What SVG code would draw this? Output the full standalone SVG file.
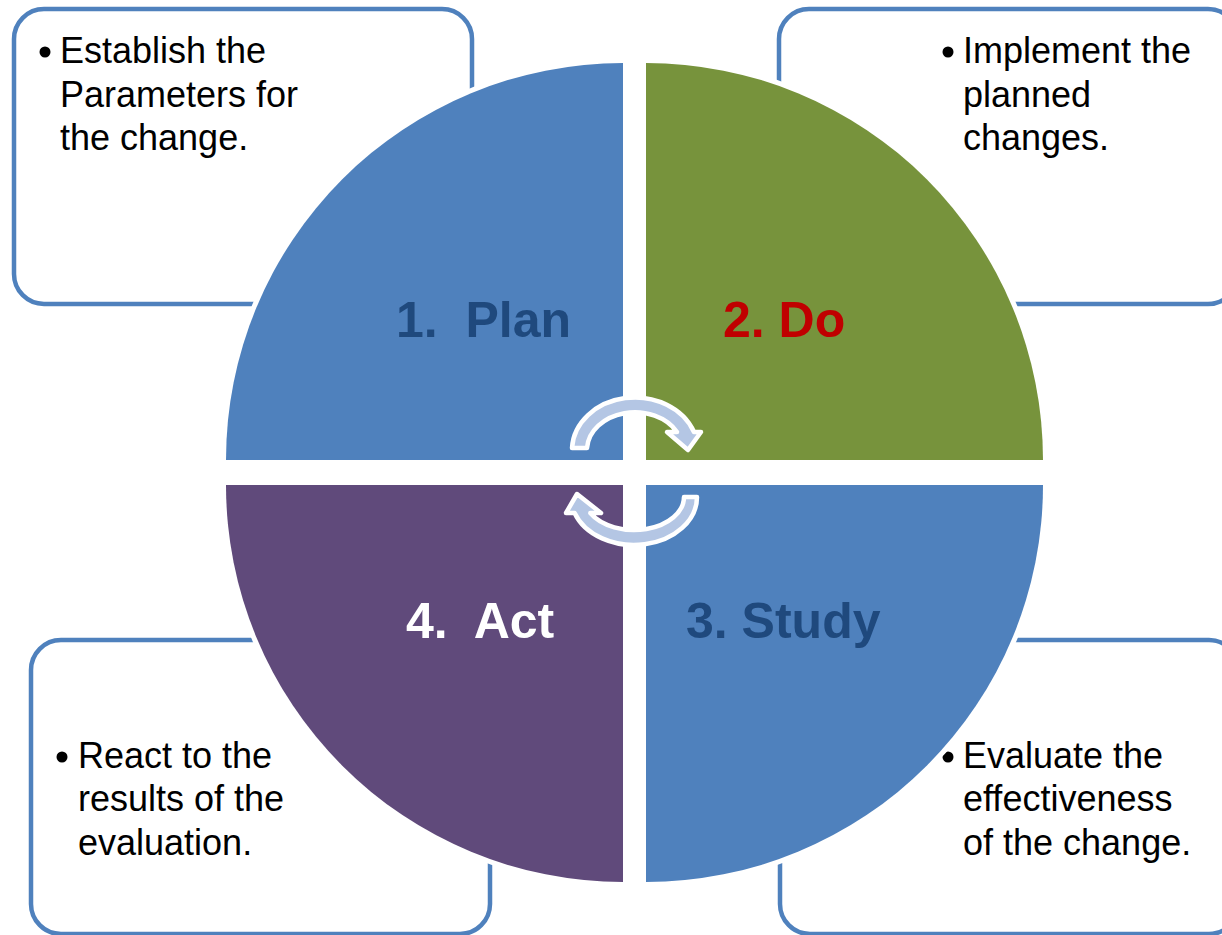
<svg xmlns="http://www.w3.org/2000/svg" width="1222" height="935" viewBox="0 0 1222 935">
  <style>
    .box { fill: #FFFFFF; stroke: #4F81BD; stroke-width: 4.5; }
    .quad { stroke: #FFFFFF; stroke-width: 10; paint-order: stroke; }
    .body { font-family: "Liberation Sans", Arial, sans-serif; font-size: 36px; fill: #000000; }
    .label { font-family: "Liberation Sans", Arial, sans-serif; font-size: 50px; font-weight: bold; }
    .bullet { fill: #000000; }
    .arrow { fill: #B4C6E4; stroke: #FFFFFF; stroke-width: 4.5; stroke-linejoin: round; }
  </style>
  <rect width="1222" height="935" fill="#FFFFFF"/>

  <!-- Text boxes (behind the quadrants) -->
  <g id="box-plan">
    <rect class="box" x="14" y="9" width="458" height="295" rx="30"/>
    <circle class="bullet" cx="45" cy="52" r="5.5"/>
    <text class="body" x="60" y="63">Establish the</text>
    <text class="body" x="60" y="107">Parameters for</text>
    <text class="body" x="60" y="150">the change.</text>
  </g>
  <g id="box-do">
    <rect class="box" x="779" y="9" width="459" height="295" rx="30"/>
    <circle class="bullet" cx="948" cy="52" r="5.5"/>
    <text class="body" x="963" y="63">Implement the</text>
    <text class="body" x="963" y="107">planned</text>
    <text class="body" x="963" y="150">changes.</text>
  </g>
  <g id="box-act">
    <rect class="box" x="31" y="640" width="459" height="294" rx="30"/>
    <circle class="bullet" cx="62" cy="757" r="5.5"/>
    <text class="body" x="78" y="768">React to the</text>
    <text class="body" x="78" y="811">results of the</text>
    <text class="body" x="78" y="855">evaluation.</text>
  </g>
  <g id="box-study">
    <rect class="box" x="780" y="640" width="459" height="294" rx="30"/>
    <circle class="bullet" cx="948" cy="757" r="5.5"/>
    <text class="body" x="963" y="768">Evaluate the</text>
    <text class="body" x="963" y="811">effectiveness</text>
    <text class="body" x="963" y="855">of the change.</text>
  </g>

  <!-- Quadrants -->
  <g id="quad-plan">
    <path class="quad" fill="#4F81BD" d="M 623 460 L 226 460 A 397 397 0 0 1 623 63 Z"/>
    <text class="label" x="396" y="337" fill="#1F497D" xml:space="preserve">1.  Plan</text>
  </g>
  <g id="quad-do">
    <path class="quad" fill="#77933C" d="M 646 460 L 646 63 A 397 397 0 0 1 1043 460 Z"/>
    <text class="label" x="723" y="337" fill="#C00000">2. Do</text>
  </g>
  <g id="quad-study">
    <path class="quad" fill="#4F81BD" d="M 646 485 L 1043 485 A 397 397 0 0 1 646 882 Z"/>
    <text class="label" x="686" y="638" fill="#1F497D">3. Study</text>
  </g>
  <g id="quad-act">
    <path class="quad" fill="#604A7B" d="M 623 485 L 623 882 A 397 397 0 0 1 226 485 Z"/>
    <text class="label" x="406" y="638" fill="#FFFFFF" xml:space="preserve">4.  Act</text>
  </g>

  <!-- Cycle arrows -->
  <g id="connectors">
    <path class="arrow" d="M 572 448 A 63 53 0 0 1 694 432 L 701 432 L 688 450 L 667 432 L 677 432 A 48 38 0 0 0 587 448 Z"/>
    <path class="arrow" d="M 697 497 A 63 48 0 0 1 574.6 513 L 566 513 L 577 494 L 601 513 L 590.3 513 A 50 33 0 0 0 684 497 Z"/>
  </g>
</svg>
